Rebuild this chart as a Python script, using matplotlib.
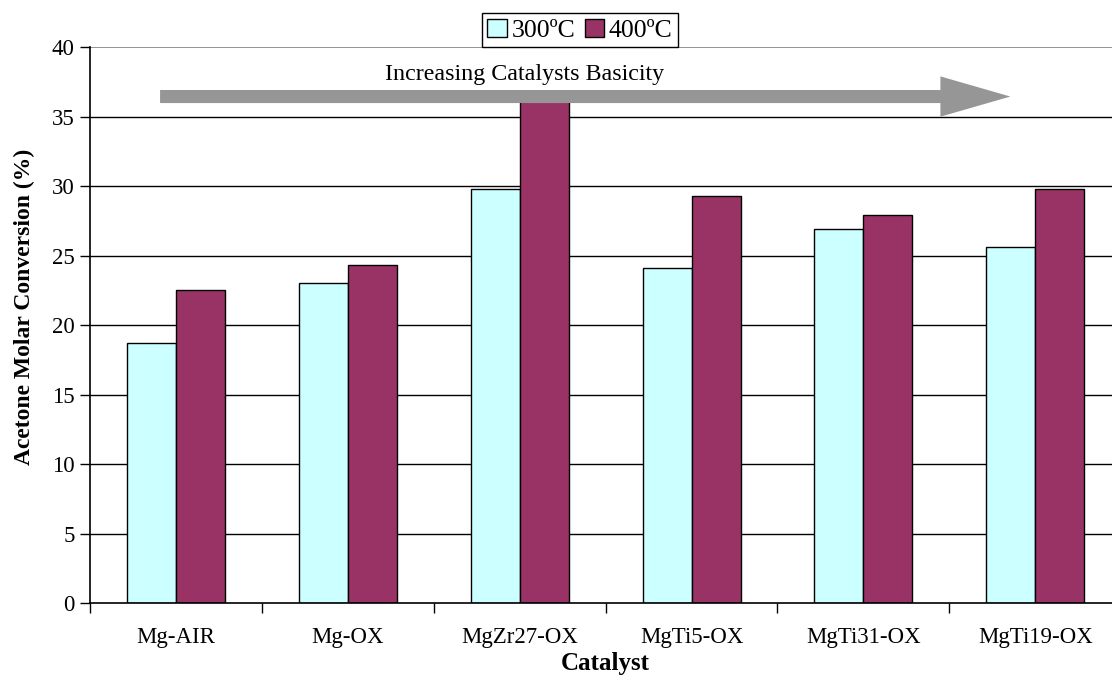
import matplotlib
matplotlib.use("Agg")
import matplotlib.pyplot as plt
import numpy as np
from matplotlib.patches import FancyArrow

catalysts = ["Mg-AIR", "Mg-OX", "MgZr27-OX", "MgTi5-OX", "MgTi31-OX", "MgTi19-OX"]
conv_300 = [18.7, 23.0, 29.8, 24.1, 26.9, 25.6]
conv_400 = [22.5, 24.3, 36.3, 29.3, 27.9, 29.8]
series_labels = ["300ºC", "400ºC"]
y_ticks = [0, 5, 10, 15, 20, 25, 30, 35, 40]

plt.rcParams["font.family"] = ["Liberation Serif", "DejaVu Serif"]

fig = plt.figure(figsize=(11.12, 6.82), dpi=100)
ax = fig.add_axes([0.0809, 0.1158, 0.9274, 0.8152])

x = np.arange(len(catalysts))
w = 0.285
ax.bar(x - w / 2, conv_300, w, color="#CCFFFF", edgecolor="black", linewidth=1.0,
       label=series_labels[0], zorder=3)
ax.bar(x + w / 2, conv_400, w, color="#993366", edgecolor="black", linewidth=1.0,
       label=series_labels[1], zorder=3)

ax.set_xlim(-0.5, len(catalysts) - 0.5)
ax.set_ylim(0, 40)
ax.set_yticks(y_ticks)
ax.set_yticklabels([str(v) for v in y_ticks], fontsize=16.5)
for v in y_ticks[1:-1]:
    ax.axhline(v, color="black", linewidth=1.0, zorder=1)
ax.axhline(40, color="#808080", linewidth=1.2, zorder=1)

# category labels centred, tick marks on the boundaries
ax.set_xticks(x)
ax.set_xticklabels(catalysts, fontsize=16.5)
ax.tick_params(axis="x", which="major", length=0, pad=17)
ax.set_xticks(np.arange(-0.5, len(catalysts) + 0.5, 1.0), minor=True)
ax.tick_params(axis="x", which="minor", length=7, width=1.0, direction="out")
ax.tick_params(axis="y", length=7, width=1.0, direction="out", pad=4)

for s in ["top", "right"]:
    ax.spines[s].set_visible(False)
for s in ["left", "bottom"]:
    ax.spines[s].set_linewidth(1.2)
    ax.spines[s].set_zorder(4)

ax.set_ylabel("Acetone Molar Conversion (%)", fontsize=17, fontweight="bold")
ax.yaxis.set_label_coords(-0.053, 0.532)
ax.set_xlabel("Catalyst", fontsize=18, fontweight="bold", labelpad=3)

# basicity trend arrow
arrow = FancyArrow(-0.092, 36.44, 4.947, 0.0, width=0.94, head_width=2.9,
                   head_length=0.407, length_includes_head=True,
                   color="#969696", linewidth=0, zorder=5)
ax.add_patch(arrow)
ax.text(2.026, 38.05, "Increasing Catalysts Basicity", fontsize=17.3,
        ha="center", va="center", zorder=6)

leg = fig.legend(loc="lower center", bbox_to_anchor=(0.5216, 0.931), ncol=2,
                 fontsize=18.5, frameon=True, fancybox=False, framealpha=1,
                 edgecolor="black", handlelength=0.75, handleheight=0.75,
                 handletextpad=0.2, columnspacing=0.35, borderpad=0.2,
                 borderaxespad=0)
leg.get_frame().set_linewidth(1.0)

fig.savefig("out.png", dpi=100)
